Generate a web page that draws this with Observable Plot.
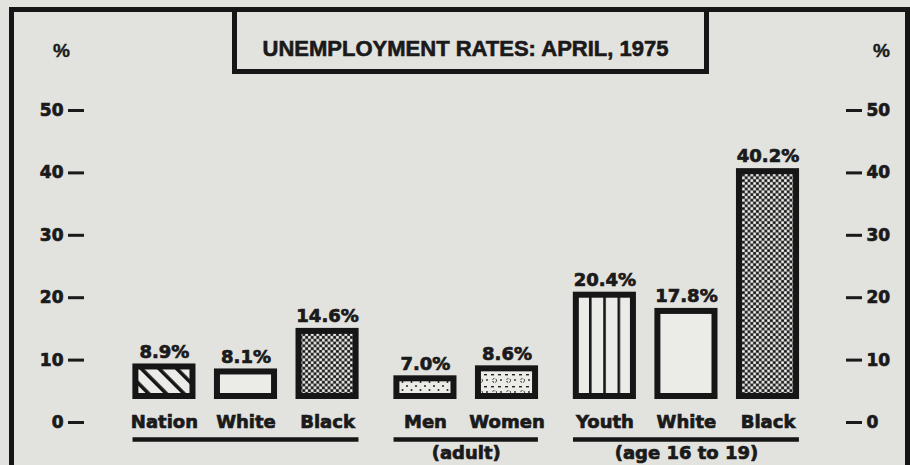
<!DOCTYPE html>
<html>
<head>
<meta charset="utf-8">
<script src="https://cdn.jsdelivr.net/npm/d3@7"></script>
<script src="https://cdn.jsdelivr.net/npm/@observablehq/plot@0.6"></script>
<style>
  html, body { margin: 0; padding: 0; background: #e2e2df; }
  #chart { position: relative; width: 910px; height: 465px; overflow: hidden; background: #e2e2df; color: #1a1a1a; }
  #frame { position: absolute; left: 9px; top: 7px; width: 891px; height: 480px;
           border-left: 5px solid #161616; border-top: 5px solid #161616; border-right: 5px solid #161616; }
  #titlebox { position: absolute; left: 232px; top: 7px; width: 467px; height: 57px;
              border: 5px solid #161616; }
  #title { position: absolute; left: 232px; top: 37px; width: 467px; text-align: center;
           font: bold 22px "Liberation Sans", Arial, sans-serif; line-height: 24px; color: #1a1a1a;
           -webkit-text-stroke: 0.6px #1a1a1a; }
  .pct { position: absolute; top: 40px; font: bold 19px "Liberation Sans", Arial, sans-serif; line-height: 22px; color: #1a1a1a;
         -webkit-text-stroke: 0.4px #1a1a1a; }
  #plot { position: absolute; left: 0; top: 0; }
  #plot svg text { stroke: #1a1a1a; stroke-width: 0.7px; }
</style>
</head>
<body>
<div id="chart">
  <div id="frame"></div>
  <div id="titlebox"></div>
  <div id="title">UNEMPLOYMENT RATES: APRIL, 1975</div>
  <div class="pct" style="left:53px">%</div>
  <div class="pct" style="left:873px">%</div>
  <div id="plot"></div>
</div>
<script>
// ---- data ----
const categories = ["Nation", "White", "Black", "Men", "Women", "Youth", "White", "Black"];
const rates = [8.9, 8.1, 14.6, 7.0, 8.6, 20.4, 17.8, 40.2];
const groups = ["all", "all", "all", "adult", "adult", "youth", "youth", "youth"];
const groupNames = ["all", "adult", "youth"];
const groupLabels = ["", "(adult)", "(age 16 to 19)"];
const yTicks = [0, 10, 20, 30, 40, 50];

// ---- styles (bar fills) ----
const LIGHT = "#ebebe8";
const barFills = ["url(#hatch)", LIGHT, "url(#dots)", "url(#stipple)", "url(#speckle)", "url(#stripes)", LIGHT, "url(#dots)"];

const GROUP_GAP = 0.2;
const HALF = 0.35;
const rows = categories.map((name, i) => {
  const gi = groupNames.indexOf(groups[i]);
  return { i, name, rate: rates[i], group: groups[i], gi, pos: i + gi * GROUP_GAP };
});
const groupRows = groupNames.map((g, gi) => {
  const members = rows.filter(d => d.group === g);
  return { label: groupLabels[gi], first: members[0].pos, last: members[members.length - 1].pos };
});
const fmt = d3.format(".1f");
const INK = "#161616";

const chart = Plot.plot({
  width: 910,
  height: 465,
  marginLeft: 84,
  marginRight: 65,
  marginTop: 110,
  marginBottom: 43,
  style: { background: "transparent", fontFamily: "'DejaVu Sans', sans-serif", fontWeight: "bold", fontSize: "17px", color: "#1a1a1a", overflow: "visible" },
  x: { axis: null, domain: [-0.98, 8.35] },
  y: { axis: null, domain: [0, 50] },
  color: { type: "identity" },
  marks: [
    Plot.axisY({ anchor: "left", ticks: yTicks, tickSize: 16, tickPadding: 5, strokeWidth: 3, fontSize: 17, fontWeight: "bold", label: null }),
    Plot.axisY({ anchor: "right", ticks: yTicks, tickSize: 16, tickPadding: 5, strokeWidth: 3, fontSize: 17, fontWeight: "bold", label: null }),
    Plot.rectY(rows, {
      x1: d => d.pos - HALF, x2: d => d.pos + HALF, y1: 0, y2: "rate",
      insetBottom: 26,
      fill: d => barFills[d.i], stroke: INK, strokeWidth: 6
    }),
    Plot.text(rows, { x: "pos", y: "rate", text: d => fmt(d.rate) + "%", dy: -15, fontSize: 18, fontWeight: "bold", fill: "#1a1a1a" }),
    Plot.text(rows, { x: "pos", frameAnchor: "bottom", text: "name", dy: 5, fontSize: 18, fontWeight: "bold", fill: "#1a1a1a" }),
    Plot.ruleY(groupRows, { y: 0, x1: d => d.first - HALF - 0.035, x2: d => d.last + HALF + 0.035, dy: 17, stroke: INK, strokeWidth: 4.5 }),
    Plot.text(groupRows, { x: d => (d.first + d.last) / 2, frameAnchor: "bottom", text: "label", dy: 36, fontSize: 18, fontWeight: "bold", fill: "#1a1a1a" })
  ]
});

d3.select(chart).insert("defs", ":first-child").html(`
  <pattern id="hatch" patternUnits="userSpaceOnUse" width="12.5" height="12.5" patternTransform="rotate(-45)">
    <rect width="12.5" height="12.5" fill="${LIGHT}"/>
    <rect x="0" y="0" width="3.6" height="12.5" fill="${INK}"/>
  </pattern>
  <pattern id="dots" patternUnits="userSpaceOnUse" width="5.6" height="5.6">
    <rect width="5.6" height="5.6" fill="#5a5a5a"/>
    <circle cx="1.4" cy="1.4" r="1.4" fill="#f0f0ed"/>
    <circle cx="4.2" cy="4.2" r="1.4" fill="#f0f0ed"/>
    <circle cx="4.2" cy="1.4" r="1.25" fill="#111"/>
    <circle cx="1.4" cy="4.2" r="1.25" fill="#111"/>
  </pattern>
  <pattern id="stipple" patternUnits="userSpaceOnUse" width="9" height="8">
    <rect width="9" height="8" fill="${LIGHT}"/>
    <circle cx="2" cy="2" r="1" fill="#222"/>
    <circle cx="6.5" cy="6" r="1" fill="#222"/>
  </pattern>
  <pattern id="speckle" patternUnits="userSpaceOnUse" width="14" height="12">
    <rect width="14" height="12" fill="${LIGHT}"/>
    <rect x="1" y="2" width="3" height="1.4" fill="#222"/>
    <rect x="8" y="2" width="3" height="1.4" fill="#222"/>
    <circle cx="4.5" cy="8.5" r="2" fill="none" stroke="#222" stroke-width="1" stroke-dasharray="2 1.2"/>
    <circle cx="11" cy="8" r="0.9" fill="#222"/>
  </pattern>
  <pattern id="stripes" patternUnits="objectBoundingBox" x="-0.02" width="0.25" height="1">
    <rect width="100" height="2000" fill="${LIGHT}"/>
    <rect x="0" y="0" width="2.6" height="2000" fill="${INK}"/>
  </pattern>
`);

document.getElementById("plot").appendChild(chart);
</script>
</body>
</html>
